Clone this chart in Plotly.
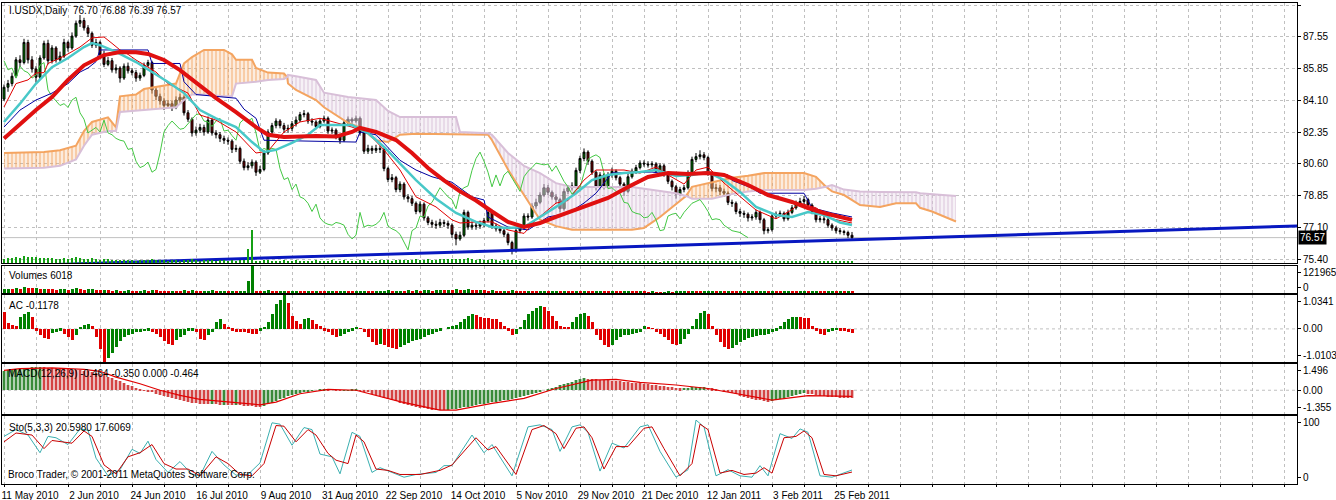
import plotly.graph_objects as go
from plotly.subplots import make_subplots

# ---------------- data (daily bars, 11 May 2010 .. 3 Mar 2011) ----------------
tick_labels = ["11 May 2010", "2 Jun 2010", "24 Jun 2010", "16 Jul 2010", "9 Aug 2010",
               "31 Aug 2010", "22 Sep 2010", "14 Oct 2010", "5 Nov 2010", "29 Nov 2010",
               "21 Dec 2010", "12 Jan 2011", "3 Feb 2011", "25 Feb 2011"]

price_ticks = [89.30, 87.55, 85.85, 84.10, 82.35, 80.60, 78.85, 77.10, 75.40]

open_ = [
    84.15, 84.80, 85.00, 85.40, 86.30, 86.15, 87.25, 86.30, 85.80, 85.35,
    86.40, 87.20, 86.25, 86.95, 86.30, 86.50, 87.25, 86.95, 87.60, 88.30,
    88.45, 88.05, 87.75, 87.10, 87.25, 86.60, 86.05, 86.25, 85.75, 85.85,
    85.30, 85.95, 85.70, 85.60, 85.30, 85.45, 86.00, 86.15, 84.65, 84.30,
    84.05, 83.80, 83.90, 83.70, 84.10, 84.25, 83.40, 83.05, 82.30, 82.45,
    82.60, 82.35, 83.00, 82.30, 82.20, 82.00, 81.90, 81.85, 81.40, 81.45,
    80.75, 80.40, 80.50, 80.70, 80.15, 80.30, 81.20, 82.35, 82.70, 82.95,
    82.70, 82.50, 82.55, 82.80, 83.00, 83.30, 83.35, 82.95, 82.90, 82.65,
    82.95, 83.10, 82.40, 82.45, 82.15, 81.90, 82.85, 83.05, 82.95, 83.10,
    82.30, 81.30, 81.45, 81.35, 81.45, 81.40, 80.35, 79.75, 79.85, 79.20,
    79.50, 78.80, 78.70, 78.45, 78.00, 78.40, 77.65, 77.40, 77.30, 77.25,
    77.40, 77.35, 77.25, 76.75, 76.50, 76.70, 77.95, 77.15, 77.25, 77.20,
    77.30, 77.50, 77.95, 77.20, 77.05, 76.95, 76.75, 76.30, 75.90, 76.95,
    77.10, 77.75, 77.70, 78.30, 78.50, 78.90, 79.30, 79.05, 78.80, 78.65,
    78.15, 79.10, 79.30, 79.40, 80.25, 80.90, 81.25, 80.75, 80.15, 79.35,
    80.00, 79.40, 80.00, 80.20, 79.85, 79.50, 79.10, 79.90, 80.20, 80.40,
    80.65, 80.60, 80.55, 80.60, 80.20, 80.50, 80.05, 79.65, 79.35, 78.95,
    79.20, 79.30, 80.10, 80.85, 81.00, 81.10, 80.95, 80.10, 79.25, 79.30,
    79.10, 79.00, 78.50, 78.45, 78.00, 77.90, 77.85, 77.65, 77.70, 77.95,
    77.55, 76.95, 77.00, 77.75, 77.85, 77.90, 77.60, 77.95, 78.20, 78.45,
    78.55, 78.65, 78.35, 78.00, 77.55, 77.60, 77.55, 77.25, 77.10, 76.95,
    76.90, 76.85, 76.70]

high = [
    84.95, 85.20, 85.60, 86.45, 86.55, 87.45, 87.40, 86.50, 85.95, 86.55,
    87.35, 87.40, 87.10, 87.05, 86.75, 87.45, 87.35, 87.80, 88.45, 88.75,
    88.60, 88.20, 87.85, 87.45, 87.35, 86.80, 86.45, 86.40, 86.05, 85.95,
    86.10, 86.15, 85.85, 85.75, 85.60, 86.15, 86.30, 86.25, 84.80, 84.45,
    84.20, 84.10, 84.05, 84.30, 84.45, 84.35, 83.55, 83.15, 82.65, 82.80,
    82.75, 83.20, 83.10, 82.45, 82.35, 82.15, 82.05, 81.95, 81.65, 81.55,
    80.90, 80.70, 80.85, 80.80, 80.50, 81.35, 82.50, 82.85, 83.10, 83.05,
    82.85, 82.75, 82.95, 83.20, 83.45, 83.55, 83.45, 83.10, 83.00, 83.10,
    83.25, 83.20, 82.60, 82.55, 82.25, 83.00, 83.20, 83.15, 83.25, 83.20,
    82.40, 81.65, 81.60, 81.65, 81.60, 81.50, 80.45, 80.05, 79.95, 79.65,
    79.60, 78.95, 78.85, 78.55, 78.55, 78.50, 77.75, 77.55, 77.50, 77.60,
    77.55, 77.50, 77.35, 76.90, 76.90, 78.10, 78.05, 77.45, 77.40, 77.50,
    77.65, 78.10, 78.05, 77.35, 77.20, 77.10, 76.85, 76.40, 77.10, 77.30,
    77.90, 77.90, 78.45, 78.70, 79.05, 79.50, 79.45, 79.15, 78.95, 78.75,
    79.25, 79.45, 79.60, 80.40, 81.05, 81.45, 81.35, 80.85, 80.25, 80.15,
    80.10, 80.15, 80.40, 80.30, 79.95, 79.60, 80.05, 80.35, 80.55, 80.80,
    80.80, 80.75, 80.75, 80.70, 80.65, 80.60, 80.15, 79.75, 79.45, 79.35,
    79.45, 80.25, 81.00, 81.20, 81.35, 81.25, 81.05, 80.20, 79.50, 79.45,
    79.25, 79.10, 78.65, 78.55, 78.15, 78.05, 77.95, 77.85, 78.10, 78.05,
    77.65, 77.15, 77.90, 78.00, 78.05, 78.00, 78.10, 78.35, 78.60, 78.75,
    78.85, 78.75, 78.45, 78.10, 77.75, 77.75, 77.65, 77.35, 77.20, 77.10,
    77.00, 76.95, 76.88]

low = [
    84.05, 84.55, 84.85, 85.30, 85.90, 86.05, 86.10, 85.60, 85.05, 85.25,
    86.30, 86.05, 86.10, 86.15, 86.20, 86.40, 86.75, 86.85, 87.50, 88.10,
    87.90, 87.55, 86.95, 86.95, 86.45, 85.90, 85.95, 85.60, 85.55, 85.05,
    85.20, 85.55, 85.45, 85.10, 85.15, 85.35, 85.90, 84.45, 84.10, 83.85,
    83.55, 83.65, 83.50, 83.60, 83.95, 83.25, 82.90, 82.10, 82.15, 82.30,
    82.15, 82.25, 82.15, 82.00, 81.80, 81.70, 81.65, 81.20, 81.25, 80.60,
    80.25, 80.25, 80.35, 79.95, 80.05, 80.20, 81.10, 82.20, 82.55, 82.55,
    82.30, 82.30, 82.40, 82.65, 82.90, 83.15, 82.80, 82.70, 82.50, 82.55,
    82.85, 82.25, 82.25, 81.95, 81.70, 81.80, 82.70, 82.80, 82.85, 82.15,
    81.15, 81.15, 81.15, 81.20, 81.20, 80.20, 79.60, 79.60, 79.05, 79.05,
    78.65, 78.50, 78.30, 77.85, 77.90, 77.50, 77.25, 77.10, 77.05, 77.10,
    77.15, 77.05, 76.55, 76.15, 76.40, 76.60, 77.00, 77.00, 77.00, 77.05,
    77.15, 77.40, 77.05, 76.90, 76.80, 76.60, 76.15, 75.65, 75.75, 76.80,
    77.00, 77.50, 77.60, 78.15, 78.40, 78.80, 78.90, 78.65, 78.45, 77.95,
    78.05, 78.95, 79.15, 79.30, 80.10, 80.75, 80.55, 80.00, 79.15, 79.20,
    79.20, 79.30, 79.85, 79.70, 79.30, 78.85, 79.00, 79.80, 80.05, 80.30,
    80.45, 80.40, 80.40, 80.10, 80.10, 79.90, 79.50, 79.15, 78.70, 78.85,
    79.05, 79.20, 80.00, 80.70, 80.85, 80.80, 79.95, 79.10, 79.05, 78.90,
    78.80, 78.35, 78.25, 77.85, 77.70, 77.65, 77.45, 77.50, 77.55, 77.35,
    76.75, 76.80, 76.90, 77.60, 77.70, 77.45, 77.50, 77.85, 78.10, 78.30,
    78.40, 78.20, 77.85, 77.40, 77.40, 77.35, 77.10, 76.95, 76.80, 76.75,
    76.70, 76.55, 76.39]

close = [
    84.80, 85.00, 85.40, 86.30, 86.15, 87.25, 86.30, 85.80, 85.35, 86.40,
    87.20, 86.25, 86.95, 86.30, 86.50, 87.25, 86.95, 87.60, 88.30, 88.45,
    88.05, 87.75, 87.10, 87.25, 86.60, 86.05, 86.25, 85.75, 85.85, 85.30,
    85.95, 85.70, 85.60, 85.30, 85.45, 86.00, 86.15, 84.65, 84.30, 84.05,
    83.80, 83.90, 83.70, 84.10, 84.25, 83.40, 83.05, 82.30, 82.45, 82.60,
    82.35, 83.00, 82.30, 82.20, 82.00, 81.90, 81.85, 81.40, 81.45, 80.75,
    80.40, 80.50, 80.70, 80.15, 80.30, 81.20, 82.35, 82.70, 82.95, 82.70,
    82.50, 82.55, 82.80, 83.00, 83.30, 83.35, 82.95, 82.90, 82.65, 82.95,
    83.10, 82.40, 82.45, 82.15, 81.90, 82.85, 83.05, 82.95, 83.10, 82.30,
    81.30, 81.45, 81.35, 81.45, 81.40, 80.35, 79.75, 79.85, 79.20, 79.50,
    78.80, 78.70, 78.45, 78.00, 78.40, 77.65, 77.40, 77.30, 77.25, 77.40,
    77.35, 77.25, 76.75, 76.50, 76.70, 77.95, 77.15, 77.25, 77.20, 77.30,
    77.50, 77.95, 77.20, 77.05, 76.95, 76.75, 76.30, 75.90, 76.95, 77.10,
    77.75, 77.70, 78.30, 78.50, 78.90, 79.30, 79.05, 78.80, 78.65, 78.15,
    79.10, 79.30, 79.40, 80.25, 80.90, 81.25, 80.75, 80.15, 79.35, 80.00,
    79.40, 80.00, 80.20, 79.85, 79.50, 79.10, 79.90, 80.20, 80.40, 80.65,
    80.60, 80.55, 80.60, 80.20, 80.50, 80.05, 79.65, 79.35, 78.95, 79.20,
    79.30, 80.10, 80.85, 81.00, 81.10, 80.95, 80.10, 79.25, 79.30, 79.10,
    79.00, 78.50, 78.45, 78.00, 77.90, 77.85, 77.65, 77.70, 77.95, 77.55,
    76.95, 77.00, 77.75, 77.85, 77.90, 77.60, 77.95, 78.20, 78.45, 78.55,
    78.65, 78.35, 78.00, 77.55, 77.60, 77.55, 77.25, 77.10, 76.95, 76.90,
    76.85, 76.70, 76.57]

volumes = [
    16000, 18000, 17000, 22000, 20000, 26000, 24000, 21000, 23000, 19000,
    20000, 18000, 17000, 15000, 16000, 19000, 14000, 17000, 21000, 18000,
    15000, 16000, 17000, 14000, 12000, 15000, 13000, 11000, 12000, 10000,
    11000, 12000, 10000, 9000, 11000, 12000, 10000, 15000, 12000, 11000,
    10000, 9000, 11000, 10000, 9000, 12000, 11000, 13000, 10000, 9000,
    10000, 11000, 12000, 9000, 10000, 11000, 9000, 10000, 8000, 10000,
    11000, 52000, 121965, 9000, 8000, 10000, 12000, 9000, 8000, 9000,
    10000, 8000, 9000, 10000, 8000, 7000, 9000, 8000, 10000, 9000,
    8000, 9000, 10000, 8000, 9000, 11000, 9000, 8000, 9000, 10000,
    11000, 9000, 8000, 9000, 10000, 11000, 12000, 9000, 10000, 11000,
    10000, 12000, 11000, 13000, 10000, 12000, 13000, 11000, 12000, 14000,
    13000, 15000, 14000, 16000, 13000, 15000, 17000, 14000, 12000, 13000,
    12000, 11000, 13000, 10000, 9000, 11000, 10000, 12000, 10000, 9000,
    8000, 9000, 8000, 7000, 8000, 9000, 7000, 8000, 9000, 7000,
    8000, 7000, 6000, 8000, 7000, 9000, 7000, 6000, 7000, 8000,
    7000, 6000, 7000, 6000, 5000, 6000, 7000, 6000, 5000, 6000,
    5000, 4000, 5000, 4000, 3000, 4000, 5000, 4000, 5000, 6000,
    7000, 6000, 7000, 6000, 5000, 6000, 7000, 8000, 6000, 7000,
    6000, 7000, 6000, 5000, 6000, 5000, 6000, 7000, 6000, 7000,
    8000, 6000, 7000, 6000, 5000, 6000, 7000, 6000, 5000, 6000,
    7000, 6000, 7000, 8000, 6000, 5000, 6000, 7000, 6000, 7000,
    6000, 7000, 6018]

# moving averages (bar index, value)
ma_slow_bars = [0, 4, 8, 12, 16, 20, 25, 29, 33, 36, 40, 44, 48, 53, 58, 63, 66, 70, 74, 78,
                83, 87, 89, 93, 98, 102, 106, 110, 114, 118, 122, 126, 130, 134, 138, 143, 147,
                151, 156, 161, 166, 171, 176, 180, 186, 191, 197, 201, 205, 212]
ma_slow = [82.00, 82.80, 83.55, 84.26, 85.20, 86.00, 86.56, 86.73, 86.72, 86.62, 86.29, 85.74,
           85.03, 84.20, 83.44, 82.62, 82.20, 82.08, 82.10, 82.13, 82.10, 82.35, 82.57, 82.35,
           81.91, 81.20, 80.38, 79.70, 79.10, 78.60, 78.00, 77.43, 77.15, 77.37, 77.70, 78.08,
           78.40, 78.74, 79.34, 79.89, 80.11, 80.05, 80.11, 80.00, 79.45, 78.90, 78.52, 78.19,
           77.92, 77.54]

ma_fast_bars = [0, 4, 8, 12, 16, 20, 22, 24, 28, 33, 37, 41, 45, 49, 53, 58, 62, 65, 68, 72,
                76, 79, 87, 91, 95, 99, 103, 108, 113, 118, 122, 126, 130, 134, 138, 143, 147,
                151, 155, 159, 163, 168, 172, 176, 180, 184, 188, 193, 197, 201, 205, 209, 212]
ma_fast = [82.90, 83.90, 85.00, 85.90, 86.40, 87.00, 87.22, 87.10, 86.73, 86.18, 85.63, 85.09,
           84.48, 83.55, 83.10, 82.62, 81.80, 81.26, 81.37, 81.75, 82.20, 82.73, 82.73, 82.29,
           81.53, 80.65, 79.72, 78.70, 77.92, 77.43, 77.15, 77.10, 77.15, 77.70, 78.25, 79.00,
           79.72, 80.00, 80.11, 80.16, 80.27, 79.94, 80.00, 80.16, 79.72, 79.07, 78.25, 77.81,
           77.70, 77.97, 77.80, 77.40, 77.26]

# Ichimoku Tenkan-sen / Kijun-sen
tenkan_bars = [0, 3, 6, 8, 10, 11, 15, 19, 22, 25, 27, 29, 31, 33, 36, 38, 41, 46, 49, 53, 58,
               63, 66, 70, 74, 79, 87, 91, 95, 99, 103, 108, 112, 114, 118, 122, 126, 130, 133,
               138, 141, 145, 148, 155, 159, 163, 166, 170, 173, 176, 180, 184, 188, 193, 197,
               199, 203, 207, 212]
tenkan = [83.72, 85.00, 85.20, 85.58, 85.60, 86.10, 86.50, 87.00, 87.50, 87.55, 87.20, 86.84,
          86.60, 86.29, 85.90, 85.63, 85.00, 84.48, 83.28, 83.00, 82.35, 81.20, 81.30, 82.35,
          82.90, 83.10, 82.62, 82.30, 81.37, 80.27, 78.80, 78.25, 77.54, 77.37, 77.43, 77.43,
          76.99, 76.80, 77.54, 78.46, 78.60, 79.72, 80.27, 80.27, 80.10, 80.43, 80.00, 79.50,
          80.27, 80.43, 79.56, 78.80, 78.08, 77.60, 78.10, 78.46, 78.20, 77.60, 77.37]

kijun_bars = [0, 4, 8, 12, 16, 19, 21, 23, 24, 36, 37, 44, 45, 48, 58, 60, 63, 65, 88, 89, 93,
              96, 99, 103, 107, 112, 117, 120, 121, 126, 131, 136, 141, 145, 148, 152, 162, 167,
              176, 181, 182, 187, 189, 200, 202, 207, 212]
kijun = [82.62, 83.55, 84.10, 84.48, 85.00, 85.63, 85.85, 86.20, 86.84, 86.84, 86.10, 86.10,
         85.10, 84.40, 84.20, 83.60, 83.10, 81.90, 81.80, 82.35, 82.20, 81.50, 80.80, 80.27,
         79.90, 79.60, 78.80, 78.63, 77.70, 77.15, 76.99, 77.70, 77.90, 78.46, 79.00, 80.11,
         80.16, 80.00, 80.16, 80.00, 79.70, 79.28, 79.00, 79.00, 78.20, 77.92, 77.70]

# Ichimoku cloud: Senkou span A / B (plotted 26 bars ahead)
span_bars = [0, 10, 14, 18, 20, 22, 26, 28, 29, 33, 35, 43, 45, 47, 50, 55, 57, 58, 62, 63, 66,
             70, 70.8, 71, 73, 78, 80, 86, 89, 93, 96, 99, 103, 113, 114, 118, 121, 122, 126,
             130, 134, 138, 142, 157, 160, 164, 168, 170.5, 172, 177, 182, 186, 190, 200, 203,
             205.5, 207, 210, 214, 219, 223, 228, 229, 232, 238]
span_a = [81.20, 81.25, 81.35, 81.60, 82.40, 82.90, 83.15, 82.60, 84.30, 84.40, 84.70, 85.00,
          86.10, 86.45, 86.84, 86.84, 86.60, 86.30, 86.30, 85.85, 85.60, 85.55, 85.35, 85.00,
          84.65, 84.10, 83.70, 82.85, 82.60, 81.90, 81.80, 82.20, 82.25, 82.20, 82.20, 82.20,
          82.20, 81.90, 80.30, 78.90, 77.55, 77.20, 77.00, 77.00, 77.10, 77.70, 78.40, 78.85,
          79.35, 79.60, 79.85, 79.95, 80.10, 80.10, 79.90, 79.35, 79.10, 78.90, 78.35, 78.25,
          78.45, 78.45, 78.20, 78.00, 77.45]
span_b = [80.35, 80.40, 80.50, 80.85, 81.60, 82.20, 82.40, 82.40, 83.45, 83.50, 83.55, 83.70,
          84.10, 84.40, 84.40, 84.30, 84.30, 85.00, 85.05, 85.10, 85.20, 85.25, 85.35, 85.47,
          85.40, 85.20, 84.50, 84.26, 84.20, 84.10, 83.50, 83.17, 83.17, 83.17, 82.35, 82.30,
          82.28, 82.20, 81.20, 80.50, 80.10, 79.55, 79.34, 79.34, 79.25, 79.15, 79.00, 78.85,
          78.70, 78.70, 78.95, 79.10, 79.18, 79.18, 79.25, 79.35, 79.45, 79.20, 79.10, 79.07,
          79.07, 79.05, 79.00, 78.95, 78.85]

chikou_shift = 26

trend_bars = [0, 323.5]
trend_prices = [75.01, 77.21]
bid_price = 76.57

# Accelerator oscillator
ac = [
    0.51, 0.17, 0.12, 0.10, 0.36, 0.46, 0.53, 0.36, -0.05, -0.20,
    -0.28, -0.30, -0.12, -0.08, -0.05, -0.15, -0.25, -0.35, -0.20, 0.05,
    0.12, 0.15, 0.08, -0.25, -0.60, -1.01, -0.90, -0.75, -0.55, -0.38,
    -0.25, -0.20, -0.15, -0.10, -0.08, -0.07, -0.06, -0.08, -0.15, -0.25,
    -0.38, -0.45, -0.50, -0.35, -0.25, -0.18, -0.06, -0.05, -0.10, -0.30,
    -0.35, -0.20, -0.08, 0.20, 0.30, 0.15, 0.05, -0.05, -0.08, -0.10,
    -0.10, -0.12, -0.15, -0.16, -0.05, 0.05, 0.20, 0.45, 0.75, 0.88,
    1.03, 0.80, 0.40, 0.25, 0.15, 0.30, 0.33, 0.28, 0.15, 0.08,
    -0.05, -0.10, -0.18, -0.25, -0.22, -0.15, -0.10, -0.05, 0.05, 0.02,
    -0.10, -0.25, -0.40, -0.50, -0.45, -0.50, -0.55, -0.58, -0.60, -0.55,
    -0.48, -0.42, -0.38, -0.33, -0.30, -0.25, -0.20, -0.15, -0.10, -0.05,
    0.00, 0.05, 0.08, 0.12, 0.20, 0.30, 0.38, 0.45, 0.42, 0.35,
    0.33, 0.32, 0.30, 0.29, 0.22, 0.08, -0.05, -0.18, -0.15, 0.05,
    0.28, 0.45, 0.55, 0.65, 0.70, 0.68, 0.55, 0.40, 0.25, 0.10,
    0.05, 0.04, 0.20, 0.35, 0.45, 0.48, 0.40, 0.20, -0.20, -0.35,
    -0.48, -0.55, -0.50, -0.35, -0.25, -0.20, -0.18, -0.15, -0.12, -0.08,
    0.08, 0.06, 0.02, -0.08, -0.15, -0.25, -0.35, -0.45, -0.50, -0.45,
    -0.30, -0.15, 0.10, 0.30, 0.48, 0.55, 0.45, 0.10, -0.20, -0.40,
    -0.55, -0.60, -0.58, -0.48, -0.40, -0.33, -0.28, -0.25, -0.22, -0.20,
    -0.18, -0.15, -0.08, -0.05, 0.08, 0.20, 0.30, 0.35, 0.36, 0.35,
    0.34, 0.33, 0.10, -0.05, -0.15, -0.20, -0.10, -0.05, -0.03, -0.05,
    -0.06, -0.08, -0.1178]

# MACD(12,26,9): main (histogram) per bar, signal line
macd_main = [
    1.10, 1.14, 1.17, 1.20, 1.23, 1.26, 1.28, 1.30, 1.31, 1.32,
    1.31, 1.29, 1.27, 1.25, 1.24, 1.22, 1.20, 1.18, 1.16, 1.14, 1.12, 1.08, 1.04, 1.00,
    0.93, 0.86, 0.78, 0.69, 0.60, 0.50, 0.40, 0.31, 0.22, 0.14, 0.07, 0.01,
    -0.05, -0.12, -0.19, -0.26, -0.33, -0.40, -0.46, -0.52, -0.57, -0.62, -0.66, -0.70, -0.73, -0.76,
    -0.78, -0.80, -0.79, -0.81, -0.83, -0.82, -0.84, -0.86, -0.85, -0.87, -0.89, -0.90, -0.92, -0.93, -0.94,
    -0.88, -0.80, -0.70, -0.60, -0.50, -0.42, -0.34, -0.27, -0.20, -0.14, -0.09,
    -0.05, -0.02, 0.00, 0.02, 0.03, 0.02, 0.00, -0.02, -0.03, -0.01, 0.01, 0.02, 0.03, 0.01,
    -0.05, -0.12, -0.19, -0.26, -0.34, -0.42, -0.50, -0.57, -0.64, -0.71, -0.77, -0.83, -0.89,
    -0.94, -0.99, -1.03, -1.07, -1.10, -1.12,
    -1.13, -1.14, -1.12,
    -1.09, -1.05, -1.01, -0.97, -0.93, -0.89, -0.85, -0.81, -0.77, -0.73, -0.69, -0.65, -0.61,
    -0.57, -0.53, -0.48, -0.43, -0.37, -0.31, -0.25, -0.19, -0.13,
    -0.07, 0.00, 0.07, 0.14, 0.21, 0.28, 0.35, 0.42, 0.49, 0.56, 0.62, 0.68,
    0.66, 0.64, 0.62, 0.60, 0.58, 0.56, 0.54, 0.52, 0.50, 0.48, 0.46, 0.44, 0.42, 0.40, 0.37,
    0.34, 0.31, 0.28, 0.25, 0.22, 0.19, 0.16,
    0.13, 0.11, 0.12, 0.14, 0.16, 0.17, 0.18, 0.19,
    0.15, 0.10, 0.05, 0.00, -0.06, -0.12, -0.18, -0.24, -0.30, -0.36, -0.42, -0.48, -0.53,
    -0.58, -0.62, -0.66,
    -0.62, -0.56, -0.50, -0.44, -0.38, -0.32, -0.27, -0.22, -0.18,
    -0.21, -0.24, -0.27, -0.30, -0.33, -0.36, -0.38, -0.40, -0.42, -0.44, -0.45, -0.464]

macd_signal_bars = [0, 4, 12, 20, 24, 28, 34, 39, 44, 49, 58, 64, 68, 74, 81, 88, 99, 109, 113,
                    122, 130, 138, 147, 153, 159, 168, 176, 184, 192, 201, 212]
macd_signal = [1.13, 1.23, 1.27, 1.19, 1.08, 0.75, 0.37, 0.00, -0.29, -0.52, -0.71, -0.83, -0.68,
               -0.20, 0.05, 0.00, -0.65, -1.13, -1.13, -0.75, -0.46, 0.10, 0.58, 0.62, 0.45,
               0.30, 0.10, -0.24, -0.56, -0.31, -0.35]

# Stochastic(5,3,3): %K and %D
stoch_k_bars = [0, 3, 6, 9, 11, 13, 16, 19, 21, 23, 26, 29, 32, 34, 36, 38, 41, 44, 47, 49, 52,
                55, 58, 61, 64, 67, 69, 72, 75, 77, 79, 82, 84, 87, 89, 92, 94, 97, 100, 103,
                108, 110, 112, 117, 120, 122, 127, 131, 134, 137, 139, 142, 144, 146, 149, 152,
                155, 159, 161, 164, 168, 171, 173, 175, 178, 181, 184, 187, 189, 191, 194, 197,
                199, 201, 204, 207, 210, 212]
stoch_k = [70, 80, 72, 46, 70, 68, 58, 81, 79, 38, 12, 21, 51, 45, 63, 36, 17, 33, 14, 12, 48,
           28, 13, 14, 31, 90, 88, 57, 83, 80, 44, 40, 15, 76, 70, 17, 24, 17, 10, 14, 17, 27,
           27, 72, 46, 58, 12, 84, 87, 80, 48, 84, 87, 76, 19, 60, 53, 84, 87, 48, 10, 21, 94,
           84, 12, 21, 12, 10, 27, 12, 74, 67, 81, 76, 12, 10, 17, 20.598]

stoch_d_bars = [0, 3, 7, 10, 12, 15, 17, 20, 22, 25, 28, 31, 34, 37, 40, 43, 46, 49, 53, 56, 59,
                62, 65, 68, 70, 73, 76, 78, 81, 83, 86, 88, 90, 93, 96, 99, 104, 109, 112, 118,
                121, 123, 128, 132, 135, 138, 140, 143, 145, 147, 150, 153, 156, 160, 162, 165,
                169, 172, 174, 176, 179, 182, 185, 188, 190, 192, 195, 198, 200, 202, 205, 208,
                211, 212]
stoch_d = [62, 75, 72, 52, 64, 62, 60, 78, 70, 28, 15, 40, 46, 58, 30, 22, 22, 12, 40, 30, 14,
           12, 30, 86, 85, 62, 80, 72, 45, 35, 30, 72, 62, 22, 20, 14, 14, 20, 28, 68, 50, 55,
           14, 80, 86, 74, 52, 82, 84, 68, 22, 55, 55, 82, 84, 52, 12, 30, 88, 80, 16, 20, 14,
           16, 24, 16, 68, 70, 78, 68, 14, 12, 16, 17.607]

# ---------------- styling ----------------
W, H = 1336, 500
ML, MR, MT, MB = 2, 39, 3, 16
PW, PH = W - ML - MR, H - MT - MB
FONT = "Liberation Sans"

GREEN_BODY = "#008000"
BEAR_BODY = "#800000"
SANDY = "#F4A460"
THISTLE = "#D8BFD8"
GRID = "#C0C0C0"


def paper_y(px):
    return 1 - (px - MT) / PH


def paper_x(px):
    return (px - ML) / PW


# pixel rows of the five panes (top, bottom)
panes = [(3, 263), (266, 293), (295, 362), (364, 414), (416, 484)]

bars = list(range(len(close)))

fig = make_subplots(rows=5, cols=1, shared_xaxes=True, vertical_spacing=0.005)

# ---- cloud (hatched)
def cloud_runs(xs, a, b):
    def sign(k):
        return 1 if (a[k] - b[k]) + (a[k + 1] - b[k + 1]) >= 0 else -1
    runs, start, cur = [], 0, sign(0)
    for k in range(1, len(xs) - 1):
        s = sign(k)
        if s != cur:
            runs.append((start, k, cur))
            start, cur = k, s
    runs.append((start, len(xs) - 1, cur))
    return runs


for s, e, sg in cloud_runs(span_bars, span_a, span_b):
    xs = span_bars[s:e + 1]
    col = SANDY if sg > 0 else THISTLE
    tint = "rgba(244,164,96,0.12)" if sg > 0 else "rgba(216,191,216,0.15)"
    fig.add_trace(go.Scatter(
        x=xs + xs[::-1], y=span_a[s:e + 1] + span_b[s:e + 1][::-1],
        mode="lines", fill="toself", line=dict(width=0), fillcolor=tint,
        fillpattern=dict(shape="|", fgcolor=col, bgcolor=tint, size=4, solidity=0.6),
        hoverinfo="skip"), row=1, col=1)

fig.add_trace(go.Scatter(x=span_bars, y=span_a, mode="lines",
                         line=dict(color=SANDY, width=2)), row=1, col=1)
fig.add_trace(go.Scatter(x=span_bars, y=span_b, mode="lines",
                         line=dict(color=THISTLE, width=2)), row=1, col=1)

# chikou span = close plotted 26 bars back
fig.add_trace(go.Scatter(x=[i - chikou_shift for i in bars[chikou_shift:]], y=close[chikou_shift:],
                         mode="lines", line=dict(color="#44C844", width=1)), row=1, col=1)
fig.add_trace(go.Scatter(x=kijun_bars, y=kijun, mode="lines",
                         line=dict(color="#0000A0", width=1)), row=1, col=1)
fig.add_trace(go.Scatter(x=tenkan_bars, y=tenkan, mode="lines",
                         line=dict(color="#E00000", width=1)), row=1, col=1)

fig.add_trace(go.Candlestick(
    x=bars, open=open_, high=high, low=low, close=close,
    increasing=dict(fillcolor=GREEN_BODY, line=dict(color="black", width=1)),
    decreasing=dict(fillcolor=BEAR_BODY, line=dict(color="black", width=1)),
    whiskerwidth=0), row=1, col=1)

fig.add_trace(go.Scatter(x=ma_fast_bars, y=ma_fast, mode="lines",
                         line=dict(color="#48C8C8", width=2.5)), row=1, col=1)
fig.add_trace(go.Scatter(x=ma_slow_bars, y=ma_slow, mode="lines",
                         line=dict(color="#E01010", width=4)), row=1, col=1)
fig.add_trace(go.Scatter(x=trend_bars, y=trend_prices, mode="lines",
                         line=dict(color="#0818C0", width=3)), row=1, col=1)

# volume ticks drawn along the bottom of the price pane
fig.add_trace(go.Bar(x=bars, y=volumes, width=0.3, marker=dict(color="#14A014", line=dict(width=0)),
                     xaxis="x", yaxis="y6"))

# ---- volumes pane
vol_cols = [GREEN_BODY] + ["#008000" if volumes[i] > volumes[i - 1] else "#E00000"
                           for i in range(1, len(volumes))]
fig.add_trace(go.Bar(x=bars, y=volumes, width=0.75, marker=dict(color=vol_cols, line=dict(width=0))),
              row=2, col=1)

# ---- AC pane
ac_cols = ["#E00000"] + ["#008000" if ac[i] > ac[i - 1] else "#E00000" for i in range(1, len(ac))]
fig.add_trace(go.Bar(x=list(range(len(ac))), y=ac, width=0.75,
                     marker=dict(color=ac_cols, line=dict(width=0))), row=3, col=1)

# ---- MACD pane
mbars = list(range(len(macd_main)))
up = [True] + [macd_main[i] > macd_main[i - 1] for i in range(1, len(macd_main))]
fig.add_trace(go.Bar(x=mbars, y=macd_main, width=1.0,
                     marker=dict(color=["#B2D0B2" if u else "#EBBDBD" for u in up], line=dict(width=0))),
              row=4, col=1)
fig.add_trace(go.Bar(x=mbars, y=macd_main, width=0.22,
                     marker=dict(color=["#3A8A3A" if u else "#D44444" for u in up], line=dict(width=0))),
              row=4, col=1)
fig.add_trace(go.Scatter(x=macd_signal_bars, y=macd_signal, mode="lines",
                         line=dict(color="#E00000", width=1.2)), row=4, col=1)

# ---- stochastic pane
fig.add_trace(go.Scatter(x=stoch_k_bars, y=stoch_k, mode="lines",
                         line=dict(color="#3AAFB0", width=1)), row=5, col=1)
fig.add_trace(go.Scatter(x=stoch_d_bars, y=stoch_d, mode="lines",
                         line=dict(color="#C80000", width=1)), row=5, col=1)

# ---------------- axes ----------------
x_ticks = list(range(0, 324, 8))
x_text = [tick_labels[v // 16] if v % 16 == 0 and v // 16 < len(tick_labels) else "" for v in x_ticks]
axis_font = dict(family=FONT, size=10, color="black")

for r in range(1, 6):
    fig.update_xaxes(row=r, col=1, range=[-0.5, 323.25], tickvals=x_ticks, ticktext=x_text,
                     showgrid=True, gridcolor=GRID, griddash="3px,3px", gridwidth=1,
                     zeroline=False, showline=True, mirror=True, linecolor="black", linewidth=1,
                     rangeslider_visible=False, automargin=False, tickfont=axis_font,
                     showticklabels=(r == 5), ticks="outside" if r == 5 else "", ticklen=2,
                     tickcolor="black", ticklabelshift=26 if r == 5 else 0)


def inset_ticks(lo, hi, px_h, texts, mid=None, inset=6.5):
    step = (hi - lo) / px_h
    vals = [hi - inset * step]
    if mid is not None:
        vals.append(mid)
    vals.append(lo + inset * step)
    return dict(tickvals=vals, ticktext=texts)


yax_common = dict(side="right", showline=True, mirror=True, linecolor="black", linewidth=1,
                  zeroline=False, ticks="outside", ticklen=3, tickcolor="black",
                  tickfont=axis_font, automargin=False)

main_lo = price_ticks[0] - (panes[0][1] - 5) * (price_ticks[0] - price_ticks[-1]) / 254
main_hi = price_ticks[0] + 2 * (price_ticks[0] - price_ticks[-1]) / 254

layout_axes = {}
layout_axes["yaxis"] = dict(yax_common, domain=[paper_y(panes[0][1]), paper_y(panes[0][0])],
                            range=[main_lo, main_hi], tickvals=price_ticks,
                            ticktext=["%.2f" % v for v in price_ticks],
                            showgrid=True, gridcolor=GRID, griddash="3px,3px")
vol_max = max(volumes)
layout_axes["yaxis2"] = dict(yax_common, domain=[paper_y(panes[1][1]), paper_y(panes[1][0])],
                             range=[0, vol_max], showgrid=False,
                             **inset_ticks(0, vol_max, panes[1][1] - panes[1][0],
                                           [str(vol_max), "0"], inset=6))
ac_lo, ac_hi = -1.0103, 1.0341
layout_axes["yaxis3"] = dict(yax_common, domain=[paper_y(panes[2][1]), paper_y(panes[2][0])],
                             range=[ac_lo, ac_hi], showgrid=False,
                             **inset_ticks(ac_lo, ac_hi, panes[2][1] - panes[2][0],
                                           ["1.0341", "0.00", "-1.0103"], mid=0))
m_lo, m_hi = -1.355, 1.496
layout_axes["yaxis4"] = dict(yax_common, domain=[paper_y(panes[3][1]), paper_y(panes[3][0])],
                             range=[m_lo, m_hi], showgrid=False,
                             **inset_ticks(m_lo, m_hi, panes[3][1] - panes[3][0],
                                           ["1.496", "0.00", "-1.355"], mid=0))
layout_axes["yaxis5"] = dict(yax_common, domain=[paper_y(panes[4][1]), paper_y(panes[4][0])],
                             range=[0, 100], showgrid=False,
                             **inset_ticks(0, 100, panes[4][1] - panes[4][0], ["100", "0"]))
layout_axes["yaxis6"] = dict(overlaying="y", range=[0, vol_max * 260 / 33], visible=False,
                             fixedrange=True)

fig.update_layout(**layout_axes)

# zero levels and bid line
for yref in ["y3", "y4"]:
    fig.add_shape(type="line", xref="paper", x0=0, x1=1, yref=yref, y0=0, y1=0,
                  line=dict(color=GRID, width=1, dash="3px,3px"), layer="below")
fig.add_shape(type="line", xref="paper", x0=0, x1=1, yref="y", y0=bid_price, y1=bid_price,
              line=dict(color="#C0C0C0", width=1), layer="below")

# ---------------- texts ----------------
texts = [
    ("I.USDX,Daily\u00a0\u00a076.70 76.88 76.39 76.57", 7, 10),
    ("Volumes 6018", 7, 275),
    ("AC -0.1178", 7, 305),
    ("MACD(12,26,9) -0.464 -0.350 0.000 -0.464", 6, 373),
    ("Sto(5,3,3) 20.5980 17.6069", 7, 427),
    ("Broco Trader, \u00a9 2001-2011 MetaQuotes Software Corp.", 6, 474),
]
for txt, xp, yp in texts:
    fig.add_annotation(text=txt, xref="paper", yref="paper", x=paper_x(xp), y=paper_y(yp),
                       xanchor="left", yanchor="middle", showarrow=False,
                       font=dict(family=FONT, size=10, color="black"))

fig.add_annotation(text="%.2f" % bid_price, xref="paper", yref="y", x=1, y=bid_price,
                   xanchor="left", yanchor="middle", xshift=1, showarrow=False,
                   bgcolor="black", borderpad=1, font=dict(family=FONT, size=10, color="white"))

fig.update_layout(width=W, height=H, margin=dict(l=ML, r=MR, t=MT, b=MB, pad=0),
                  showlegend=False, plot_bgcolor="white", paper_bgcolor="white",
                  barmode="overlay", bargap=0, font=dict(family=FONT, size=10, color="black"),
                  hovermode=False)

# the page's default body margin would shift the 1336x500 figure; remove it
fig.write_html("out.html", config={"displayModeBar": False},
               post_script="document.body.style.margin='0';document.body.style.padding='0';")
